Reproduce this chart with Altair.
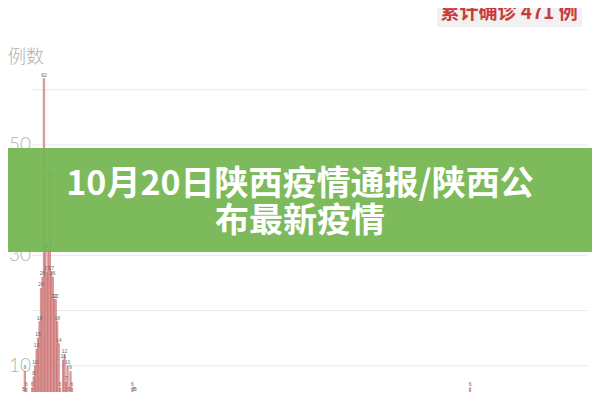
import altair as alt
import pandas as pd

# ---- data ----
day_index = list(range(0, 38)) + [74, 75, 76, 77, 78, 304]
cases = [2, 5, 9, 6, 3, 2, 4, 6, 8, 10, 13, 15, 18, 24, 26, 62, 31, 27, 31, 44,
         27, 26, 22, 22, 18, 14, 6, 4, 11, 12, 7, 10, 5, 9, 6, 3, 2, 1,
         4, 6, 5, 5, 3, 6]
tick_labels = [10, 30, 50]
grid_values = [10, 20, 30, 40, 50, 60]
y_title = "例数"
total_text = "累计确诊 471 例"
banner_line1 = "10月20日陕西疫情通报/陕西公"
banner_line2 = "布最新疫情"

W, H = 584, 384
x_scale = alt.Scale(domain=[-6, 383.33], nice=False, zero=False)
y_scale = alt.Scale(domain=[5.25, 74.8], nice=False, zero=False)

bars_df = pd.DataFrame({"day": day_index, "cases": cases})
ticks_df = pd.DataFrame({"v": tick_labels})
grid_df = pd.DataFrame({"v": grid_values})
one = pd.DataFrame({"k": [0]})

grid = alt.Chart(grid_df).mark_rule(color="#e8e8e8", strokeWidth=1).encode(
    y=alt.Y("v:Q", scale=y_scale, axis=None),
    x=alt.value(24), x2=alt.value(579),
)

ticks = alt.Chart(ticks_df).mark_text(
    align="right", baseline="middle", fontSize=19, color="#b4b4b4",
    font="Lato", fontWeight=300,
).encode(
    y=alt.Y("v:Q", scale=y_scale, axis=None),
    x=alt.value(23),
    text=alt.Text("v:Q"),
)

ytitle = alt.Chart(one).mark_text(
    align="left", baseline="middle", fontSize=18, color="#b0b0b0",
    font="Noto Sans CJK SC", fontWeight=300,
).encode(x=alt.value(0), y=alt.value(50), text=alt.value(y_title))

bars = alt.Chart(bars_df).mark_bar(
    width=1.3, fill="#f1bcbc", stroke="#b44848", strokeWidth=0.5, clip=True,
).encode(
    x=alt.X("day:Q", scale=x_scale, axis=None),
    y=alt.Y("cases:Q", scale=y_scale, axis=None),
    y2=alt.datum(0),
)

bar_labels = alt.Chart(bars_df).mark_text(
    fontSize=5, color="#666666", baseline="bottom", dy=-1, clip=True,
).encode(
    x=alt.X("day:Q", scale=x_scale, axis=None),
    y=alt.Y("cases:Q", scale=y_scale, axis=None),
    text=alt.Text("cases:Q"),
)

total_box = alt.Chart(one).mark_rect(color="#f1f1f1").encode(
    x=alt.value(429), x2=alt.value(574), y=alt.value(-8), y2=alt.value(19),
)
total_label = alt.Chart(one).mark_text(
    align="center", baseline="middle", fontSize=19, fontWeight="bold",
    color="#c83c3c", font="Noto Sans CJK SC",
).encode(x=alt.value(501), y=alt.value(5), text=alt.value(total_text))

banner = alt.Chart(one).mark_rect(color="#74b652", opacity=0.94).encode(
    x=alt.value(-8), x2=alt.value(W + 8), y=alt.value(140), y2=alt.value(244),
)
banner_t1 = alt.Chart(one).mark_text(
    align="center", baseline="middle", fontSize=34, fontWeight="bold",
    color="white", font="Noto Sans CJK SC",
).encode(x=alt.value(292), y=alt.value(177), text=alt.value(banner_line1))
banner_t2 = alt.Chart(one).mark_text(
    align="center", baseline="middle", fontSize=34, fontWeight="bold",
    color="white", font="Noto Sans CJK SC",
).encode(x=alt.value(292), y=alt.value(214), text=alt.value(banner_line2))

chart = alt.layer(
    grid, ticks, ytitle, bars, bar_labels, total_box, total_label,
    banner, banner_t1, banner_t2,
).properties(
    width=W, height=H, padding=0, autosize=alt.AutoSizeParams(type="none"),
    background="white",
).configure_view(stroke=None)

chart.save("out.html", embed_options={"renderer": "svg", "actions": False})
